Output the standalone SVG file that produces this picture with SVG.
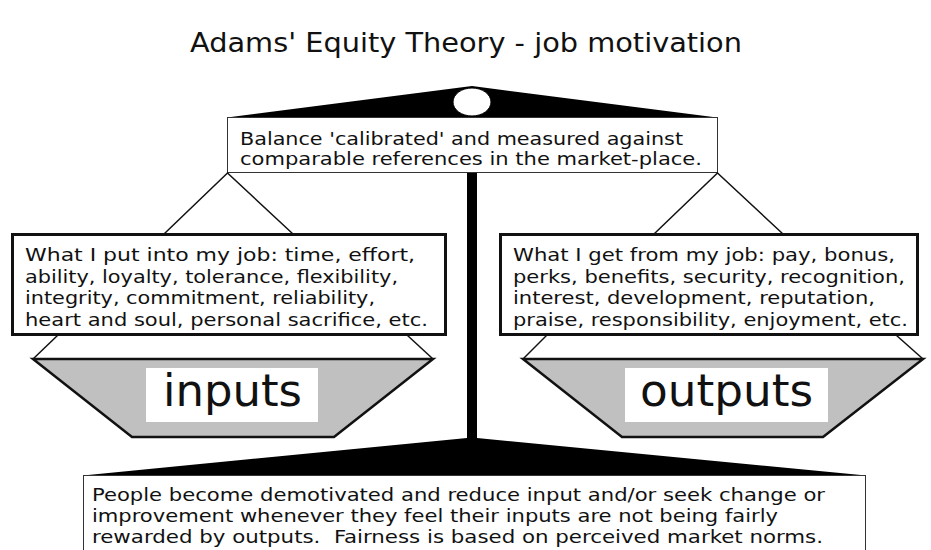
<svg xmlns="http://www.w3.org/2000/svg" width="931" height="550" viewBox="0 0 931 550">
<style>
text{font-family:"DejaVu Sans","Liberation Sans",sans-serif;fill:#111}
.t,.b{font-family:"DejaVu Sans Condensed","DejaVu Sans","Liberation Sans",sans-serif}
.t{font-size:18px}
.b{font-size:18.5px}
.big{font-size:45px}
.thin{fill:#fff;stroke:#333;stroke-width:1}
.thick{fill:#fff;stroke:#111;stroke-width:3}
.pan{fill:#c0c0c0;stroke:#111;stroke-width:2.5;stroke-linejoin:miter}
.lbl{fill:#fff;stroke:none}
.hang{stroke:#111;stroke-width:1.5;fill:none}
.blk{fill:#000;stroke:none}
</style>
<rect width="931" height="550" fill="#fff"/>
<g id="title"><text x="466" y="52" text-anchor="middle" style="font-size:26px" textLength="552" lengthAdjust="spacingAndGlyphs">Adams' Equity Theory - job motivation</text></g>
<g id="pole"><rect class="blk" x="467" y="170" width="10" height="272"/></g>
<g id="base"><polygon class="blk" points="83,475.5 467,438 477,438 866,475.5"/></g>
<g id="beam"><polygon class="blk" points="227,117.5 472,86 717,117.5"/><ellipse cx="472" cy="102" rx="19" ry="14" fill="#fff" stroke="#000" stroke-width="1"/></g>
<g id="top-box"><rect class="thin" x="227.5" y="117.5" width="490" height="55"/>
<text class="t" x="240" y="145" textLength="443" lengthAdjust="spacingAndGlyphs">Balance 'calibrated' and measured against</text>
<text class="t" x="240" y="165" textLength="462" lengthAdjust="spacingAndGlyphs">comparable references in the market-place.</text></g>
<g id="connectors">
<polyline class="hang" points="164,234 227.5,173 293,234"/>
<polyline class="hang" points="654,234 717.5,173 783,234"/>
<line class="hang" x1="58" y1="335" x2="33" y2="359"/>
<line class="hang" x1="407" y1="335" x2="433" y2="359"/>
<line class="hang" x1="547" y1="335" x2="523" y2="359"/>
<line class="hang" x1="896" y1="335" x2="923" y2="359"/>
</g>
<g id="left-box"><rect class="thick" x="12.5" y="234.5" width="433" height="100"/>
<text class="b" x="25" y="261" textLength="390" lengthAdjust="spacingAndGlyphs">What I put into my job: time, effort,</text>
<text class="b" x="25" y="282.5" textLength="373" lengthAdjust="spacingAndGlyphs">ability, loyalty, tolerance, flexibility,</text>
<text class="b" x="25" y="304" textLength="350" lengthAdjust="spacingAndGlyphs">integrity, commitment, reliability,</text>
<text class="b" x="25" y="325.5" textLength="403" lengthAdjust="spacingAndGlyphs">heart and soul, personal sacrifice, etc.</text></g>
<g id="right-box"><rect class="thick" x="500.5" y="234.5" width="417" height="100"/>
<text class="b" x="513" y="261" textLength="382" lengthAdjust="spacingAndGlyphs">What I get from my job: pay, bonus,</text>
<text class="b" x="513" y="282.5" textLength="392" lengthAdjust="spacingAndGlyphs">perks, benefits, security, recognition,</text>
<text class="b" x="513" y="304" textLength="362" lengthAdjust="spacingAndGlyphs">interest, development, reputation,</text>
<text class="b" x="513" y="325.5" textLength="395" lengthAdjust="spacingAndGlyphs">praise, responsibility, enjoyment, etc.</text></g>
<g id="left-pan"><polygon class="pan" points="33,359 433,359 334,437 132,437"/>
<rect class="lbl" x="146" y="368" width="172" height="54"/>
<text class="big" x="232.5" y="406" text-anchor="middle" textLength="139" lengthAdjust="spacingAndGlyphs">inputs</text></g>
<g id="right-pan"><polygon class="pan" points="523,359 923,359 823,437 622,437"/>
<rect class="lbl" x="625" y="368" width="203" height="54"/>
<text class="big" x="726.5" y="406" text-anchor="middle" textLength="173" lengthAdjust="spacingAndGlyphs">outputs</text></g>
<g id="bottom-box"><rect class="thin" x="83.5" y="475.5" width="782" height="80"/>
<text class="b" x="92" y="501" textLength="733" lengthAdjust="spacingAndGlyphs">People become demotivated and reduce input and/or seek change or</text>
<text class="b" x="92" y="522" textLength="686" lengthAdjust="spacingAndGlyphs">improvement whenever they feel their inputs are not being fairly</text>
<text class="b" x="92" y="543" textLength="731" lengthAdjust="spacingAndGlyphs">rewarded by outputs.&#160; Fairness is based on perceived market norms.</text></g>
</svg>
